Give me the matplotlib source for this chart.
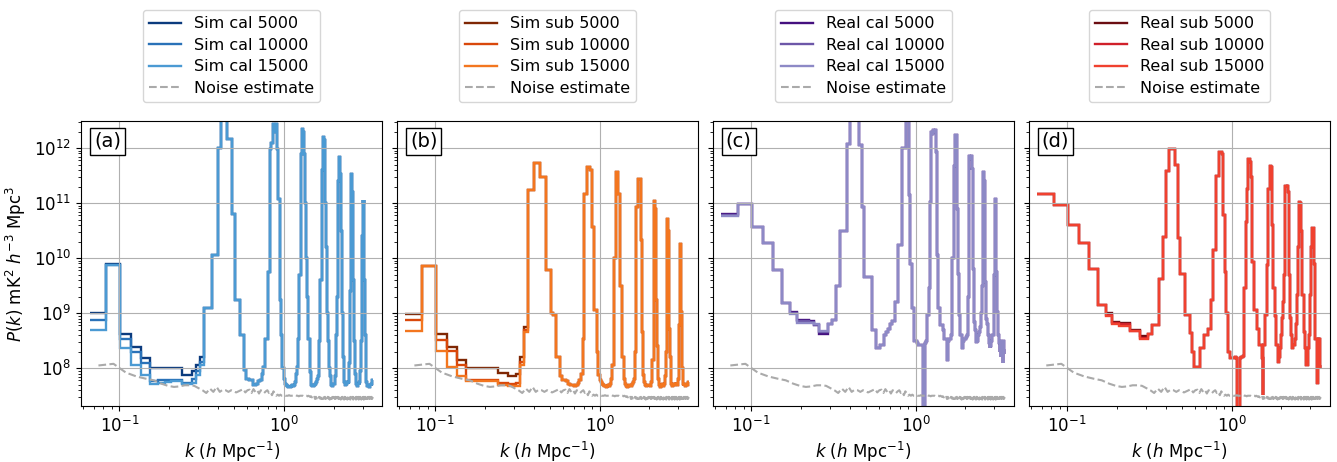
import matplotlib
matplotlib.use('Agg')
import matplotlib.pyplot as plt
import numpy as np

plt.rcParams['font.size'] = 12
plt.rcParams['xtick.labelsize'] = 12
plt.rcParams['ytick.labelsize'] = 12

# k bins: equal-width bins from 0.066 to 3.466 h/Mpc (194 bins)
k_edges = np.linspace(0.066, 3.466, 195)
k_mid = 0.5 * (k_edges[:-1] + k_edges[1:])

# values are log10 P(k); the first 17 bins differ between the three runs,
# from bin 17 on the three runs of a panel lie on top of each other
sim_cal_5000_low = [9.0, 9.9, 8.63, 8.39, 8.18, 8.0, 8.0, 8.0, 8.0, 8.0, 7.88, 7.88, 7.95, 8.06, 8.2, 9.1, 9.1]
sim_cal_10000_low = [8.88, 9.88, 8.54, 8.30, 8.09, 7.77, 7.78, 7.78, 7.78, 7.78, 7.74, 7.74, 7.8, 7.95, 8.12, 9.1, 9.1]
sim_cal_15000_low = [8.69, 9.88, 8.36, 8.06, 7.88, 7.72, 7.74, 7.75, 7.76, 7.76, 7.72, 7.72, 7.74, 7.88, 8.05, 9.1, 9.1]
sim_cal_shared = [
    10.05, 10.05, 12.0, 12.7, 12.7, 12.16, 12.16, 10.8, 9.24, 9.24, 8.6, 8.6, 7.97,
    7.8, 7.79, 7.78, 7.7, 7.7, 7.72, 7.76, 7.78, 7.9,
    8.03, 8.54, 8.54, 9.75, 11.99, 12.1, 12.44, 12.3, 12.44, 11.99, 11.08, 9.24, 8.6, 8.0, 7.8,
    7.72, 7.7, 7.68, 7.66, 7.66, 7.68, 7.7, 7.68, 7.7, 7.75, 7.9,
    8.03, 8.54, 9.7, 9.7, 11.9, 12.35, 12.3, 11.9, 11.0, 10.0, 9.3, 8.54, 8.54, 7.94,
    7.75, 7.7, 7.68, 7.68, 7.7, 7.72, 7.72, 7.75, 7.8, 7.85,
    8.0, 8.5, 9.6, 9.6, 11.6, 11.6, 12.2, 12.15, 11.75, 11.0, 10.2, 9.4, 9.0, 8.5, 8.3, 8.0, 7.85,
    7.72, 7.7, 7.68, 7.7, 7.72, 7.72, 7.75,
    7.85, 8.3, 8.6, 9.3, 9.6, 11.4, 11.83, 11.83, 11.53, 11.53, 10.5, 9.6, 9.0, 8.5, 8.2, 7.9,
    7.75, 7.72, 7.7, 7.7, 7.72, 7.75, 7.72, 7.75, 7.85,
    8.1, 8.5, 9.4, 10.6, 11.53, 11.5, 11.53, 11.2, 10.4, 9.6, 9.0, 8.5, 8.2, 7.9, 7.75,
    7.72, 7.7, 7.68, 7.7, 7.7, 7.72, 7.7, 7.75, 7.8, 7.95,
    8.2, 8.5, 9.2, 9.6, 10.4, 11.05, 11.0, 11.05, 10.3, 9.6, 9.0, 8.6, 8.2, 7.9, 7.75,
    7.7, 7.68, 7.66, 7.68, 7.7, 7.68, 7.66, 7.7, 7.72, 7.7, 7.68, 7.7, 7.72, 7.74, 7.76, 7.78]

sim_sub_5000_low = [8.98, 9.86, 8.62, 8.39, 8.15, 8.0, 8.0, 8.0, 8.0, 8.0, 7.91, 7.91, 7.86, 7.86, 7.9, 8.21, 8.75]
sim_sub_10000_low = [8.88, 9.86, 8.52, 8.31, 8.05, 7.79, 7.79, 7.79, 7.79, 7.79, 7.74, 7.74, 7.72, 7.72, 7.74, 8.12, 8.7]
sim_sub_15000_low = [8.67, 9.86, 8.31, 8.03, 7.86, 7.76, 7.76, 7.76, 7.76, 7.76, 7.7, 7.7, 7.67, 7.67, 7.68, 8.06, 8.65]
sim_sub_shared = [
    11.23, 11.23, 11.72, 11.72, 11.47, 11.47, 9.78, 9.78, 9.0, 8.97, 8.21, 8.21, 7.85, 7.79,
    7.79, 7.76, 7.72, 7.7, 7.7, 7.68, 7.7, 7.74, 7.79,
    7.9, 8.54, 11.17, 11.17, 11.65, 11.65, 11.6, 10.57, 10.57, 9.06, 9.06, 8.3, 7.88,
    7.78, 7.75, 7.72, 7.7, 7.68, 7.66, 7.68, 7.7, 7.68, 7.72, 7.8,
    8.06, 8.06, 10.0, 10.0, 11.56, 11.56, 11.17, 11.17, 9.5, 9.5, 8.21, 8.21, 7.8,
    7.72, 7.7, 7.68, 7.66, 7.68, 7.7, 7.7, 7.68, 7.7, 7.72, 7.75, 7.8,
    8.3, 8.3, 10.93, 10.93, 11.44, 11.44, 11.44, 11.44, 10.33, 10.33, 8.66, 8.66, 7.88,
    7.75, 7.72, 7.7, 7.68, 7.68, 7.7, 7.7, 7.72, 7.7, 7.68, 7.7, 7.75, 7.85,
    8.15, 8.15, 11.02, 11.03, 11.03, 10.9, 9.24, 9.24, 8.4, 8.4, 7.8,
    7.72, 7.7, 7.68, 7.66, 7.68, 7.7, 7.7, 7.72, 7.7, 7.68, 7.7, 7.72, 7.75, 7.85,
    8.3, 8.3, 10.72, 10.72, 10.72, 10.5, 10.5, 8.72, 8.72, 8.2, 7.8,
    7.72, 7.7, 7.68, 7.7, 7.72, 7.7, 7.68, 7.7, 7.7, 7.72, 7.7, 7.72, 7.75, 7.72, 7.7, 7.75, 7.8, 8.0,
    8.78, 8.78, 10.25, 10.25, 9.9, 9.03, 9.03, 8.5, 8.0, 7.8,
    7.72, 7.7, 7.68, 7.7, 7.72, 7.7, 7.68, 7.7, 7.72, 7.7, 7.68, 7.7, 7.74, 7.72, 7.75]

real_cal_5000_low = [10.80, 10.98, 10.57, 10.28, 9.78, 9.18, 9.03, 8.87, 8.87, 8.85, 8.78, 8.62, 8.62, 8.8, 8.88, 9.5, 10.5]
real_cal_10000_low = [10.78, 10.98, 10.57, 10.28, 9.78, 9.18, 9.01, 8.85, 8.85, 8.84, 8.79, 8.65, 8.65, 8.8, 8.88, 9.5, 10.5]
real_cal_15000_low = [10.76, 10.98, 10.57, 10.28, 9.78, 9.18, 8.99, 8.82, 8.82, 8.83, 8.8, 8.67, 8.67, 8.8, 8.88, 9.5, 10.5]
real_cal_shared = [
    10.5, 12.07, 12.7, 12.7, 12.7, 12.05, 10.93, 9.66, 9.66, 9.66, 8.7, 8.7, 8.37, 8.37,
    8.42, 8.42, 8.6, 8.66, 8.72, 8.81, 8.85, 8.85, 9.2, 9.2, 10.23, 10.23,
    12.0, 12.0, 12.0, 12.7, 12.7, 11.14, 9.9, 9.09, 9.09, 8.5, 8.5,
    8.45, 8.42, 8.42, 8.42, 8.42, 6.5, 6.5, 8.45, 8.5, 8.97, 8.97, 9.45, 11.02,
    12.3, 12.25, 12.32, 12.3, 12.32, 11.93, 10.05, 9.09, 9.09, 8.79,
    8.79, 8.79, 8.79, 8.7, 8.54, 8.54, 8.54, 8.54, 8.15, 8.5, 8.54, 8.54, 8.54, 8.6, 10.0, 10.0,
    11.68, 11.68, 12.23, 12.23, 12.2, 10.9, 9.72, 9.72, 8.97, 8.6, 8.6, 8.6, 8.36, 8.45, 8.5,
    8.54, 8.54, 8.54, 8.54, 8.56, 8.6, 8.65, 9.3, 11.86, 11.86, 11.8, 11.86, 11.86, 11.6,
    11.62, 9.8, 9.8, 8.84, 8.84, 8.7, 8.6, 8.48, 8.48, 8.5, 8.55, 8.6, 8.66, 8.66, 8.7, 8.75, 8.8, 9.0, 9.5,
    9.5, 11.56, 11.56, 11.45, 11.4, 11.4, 9.57, 9.57, 8.9, 8.9, 8.8, 8.7, 8.6, 8.54, 8.5, 8.45, 8.36,
    8.4, 8.45, 8.5, 8.55, 8.6, 8.6, 8.6, 8.6, 8.65, 9.69, 9.69, 11.08, 11.08, 11.0, 9.75, 9.75, 9.03, 9.03,
    8.6, 8.6, 8.5, 8.45, 8.42, 8.3, 8.5, 8.4, 8.2, 8.45, 8.5, 8.3, 8.1, 8.4, 8.5, 8.25, 8.45, 8.35]

real_sub_5000_low = [11.17, 10.97, 10.6, 10.28, 9.8, 9.15, 9.0, 8.84, 8.83, 8.83, 8.69, 8.69, 8.58, 8.58, 8.62, 8.79, 8.79]
real_sub_10000_low = [11.17, 10.97, 10.6, 10.28, 9.8, 9.15, 8.97, 8.82, 8.8, 8.8, 8.68, 8.68, 8.55, 8.55, 8.62, 8.79, 8.79]
real_sub_15000_low = [11.17, 10.97, 10.6, 10.28, 9.8, 9.15, 8.95, 8.8, 8.76, 8.76, 8.67, 8.67, 8.53, 8.53, 8.62, 8.79, 8.79]
real_sub_shared = [
    9.63, 10.39, 11.59, 11.98, 11.98, 11.7, 10.36, 9.71, 9.71, 8.97, 8.97, 8.64, 8.3, 8.03,
    8.03, 8.03, 8.36, 8.36, 8.6, 8.6, 8.72, 8.72, 9.24, 10.14, 10.14,
    11.5, 11.5, 11.93, 11.93, 11.9, 10.78, 9.75, 9.0, 8.3, 8.3, 8.18, 8.18,
    8.18, 8.18, 8.2, 8.18, 6.5, 6.5, 8.18, 8.2, 8.2, 8.22, 9.45, 9.45,
    10.66, 11.26, 11.8, 11.8, 11.75, 11.47, 9.93, 9.93, 9.06, 9.06, 9.06, 8.72, 8.72, 8.72, 8.42, 8.42, 8.42, 8.18,
    7.52, 8.42, 8.42, 8.97, 8.97, 9.87, 9.87, 11.26, 11.26, 11.68, 11.68, 11.65, 10.6, 10.6, 9.45, 9.45, 8.94,
    8.94, 8.42, 8.42, 8.42, 8.12, 8.12, 8.2, 8.36, 8.36, 8.6, 8.91, 8.91, 9.2, 9.69, 9.69, 10.5, 11.32,
    11.32, 11.3, 11.32, 11.3, 11.2, 9.69, 9.69, 8.91, 8.91, 8.6, 8.36, 8.36, 8.4, 8.42, 8.42,
    8.42, 8.5, 8.54, 8.66, 8.8, 9.0, 9.33, 9.33, 10.2, 11.02, 11.02, 10.9, 11.0, 10.8, 10.5, 9.8, 9.33,
    9.33, 9.33, 8.66, 8.66, 8.66, 8.36, 8.36, 8.36, 8.06, 8.06, 8.06, 8.06, 8.36, 8.36, 8.36, 8.6, 9.0,
    9.33, 9.33, 9.8, 10.2, 10.54, 10.54, 10.54, 10.54, 10.54, 10.5, 9.9, 8.66, 8.66, 8.54, 8.54,
    8.54, 8.3, 8.06, 7.73, 7.73, 8.2, 8.54, 8.1, 8.54, 8.0, 8.3, 8.06]

# noise estimate (same in every panel), log10 at bin centres
noise = [
    8.05, 8.08, 7.92, 7.85, 7.81, 7.78, 7.72, 7.68, 7.66, 7.67, 7.69, 7.69, 7.68, 7.64, 7.6, 7.55, 7.63,
    7.57, 7.66, 7.57, 7.61, 7.6, 7.57, 7.6, 7.58, 7.56, 7.58, 7.6, 7.62, 7.56, 7.6, 7.61, 7.55,
    7.62, 7.57, 7.6, 7.54, 7.6, 7.58, 7.55, 7.58,
    7.6, 7.55, 7.57, 7.51, 7.58, 7.54, 7.5, 7.52, 7.5, 7.52, 7.5, 7.5, 7.51, 7.5, 7.5, 7.5, 7.51, 7.5, 7.5, 7.5,
    7.5, 7.5, 7.51, 7.5, 7.5, 7.49, 7.5, 7.5, 7.5, 7.5, 7.49, 7.5, 7.5, 7.5, 7.49, 7.5, 7.49, 7.48, 7.49, 7.47,
    7.48, 7.45, 7.48, 7.44, 7.48, 7.45, 7.47, 7.44, 7.48, 7.45,
    7.47, 7.44, 7.48, 7.44, 7.47, 7.45, 7.48, 7.44, 7.47, 7.44,
    7.48, 7.45, 7.47, 7.43, 7.48, 7.44, 7.47, 7.45, 7.48, 7.43,
    7.47, 7.44, 7.48, 7.45, 7.47, 7.43, 7.48, 7.44, 7.47, 7.45,
    7.48, 7.43, 7.47, 7.44, 7.48, 7.45, 7.47, 7.43, 7.48, 7.44,
    7.47, 7.45, 7.48, 7.43, 7.47, 7.44, 7.48, 7.45, 7.47, 7.43,
    7.48, 7.44, 7.47, 7.45, 7.48, 7.43, 7.47, 7.44, 7.48, 7.45,
    7.47, 7.43, 7.48, 7.44, 7.47, 7.45, 7.48, 7.43, 7.47, 7.44,
    7.48, 7.45, 7.47, 7.43, 7.48, 7.44, 7.47, 7.45, 7.48, 7.43,
    7.47, 7.44, 7.48, 7.45, 7.47, 7.43, 7.48, 7.44, 7.47, 7.45,
    7.48, 7.43, 7.47, 7.44, 7.48, 7.45, 7.47, 7.43, 7.48, 7.44,
    7.47, 7.45, 7.48]

panels = [
    ('(a)', ['Sim cal 5000', 'Sim cal 10000', 'Sim cal 15000'],
     [sim_cal_5000_low, sim_cal_10000_low, sim_cal_15000_low], sim_cal_shared,
     ['#0b3b7e', '#2a72b8', '#4b9ad3']),
    ('(b)', ['Sim sub 5000', 'Sim sub 10000', 'Sim sub 15000'],
     [sim_sub_5000_low, sim_sub_10000_low, sim_sub_15000_low], sim_sub_shared,
     ['#7f2704', '#d9480b', '#f3761f']),
    ('(c)', ['Real cal 5000', 'Real cal 10000', 'Real cal 15000'],
     [real_cal_5000_low, real_cal_10000_low, real_cal_15000_low], real_cal_shared,
     ['#44107f', '#6d57a8', '#8d89c6']),
    ('(d)', ['Real sub 5000', 'Real sub 10000', 'Real sub 15000'],
     [real_sub_5000_low, real_sub_10000_low, real_sub_15000_low], real_sub_shared,
     ['#6b0d12', '#d0202a', '#f0412f']),
]

fig, axes = plt.subplots(1, 4, figsize=(13.37, 4.62), dpi=100, sharey=True)
fig.subplots_adjust(left=0.0606, right=0.9948, bottom=0.121, top=0.738, wspace=0.049)

for ax, (tag, labels, lows, shared, cols) in zip(axes, panels):
    for lab, low, c in zip(labels, lows, cols):
        logp = np.array(low + shared)
        ax.stairs(10 ** logp, k_edges, baseline=None, color=c, lw=1.7, label=lab)
    ax.plot(k_mid, 10 ** np.array(noise), '--', color='#aaaaaa', lw=1.5, label='Noise estimate')
    ax.set_xscale('log')
    ax.set_yscale('log')
    ax.set_xlim(0.0586, 3.95)
    ax.set_ylim(2.05e7, 3.1e12)
    ax.grid(True, color='#b0b0b0', lw=0.8)
    ax.set_xlabel(r'$k$ ($h$ Mpc$^{-1}$)', labelpad=3)
    ax.text(0.043, 0.962, tag, transform=ax.transAxes, fontsize=14, va='top', ha='left',
            bbox=dict(boxstyle='square,pad=0.2', fc='white', ec='black', lw=1))
    ax.legend(loc='lower center', bbox_to_anchor=(0.5, 1.039), fontsize=11.5, labelspacing=0.4)

axes[0].set_ylabel(r'$P(k)$ mK$^2$ $h^{-3}$ Mpc$^3$')
fig.savefig('out.png', dpi=100)
